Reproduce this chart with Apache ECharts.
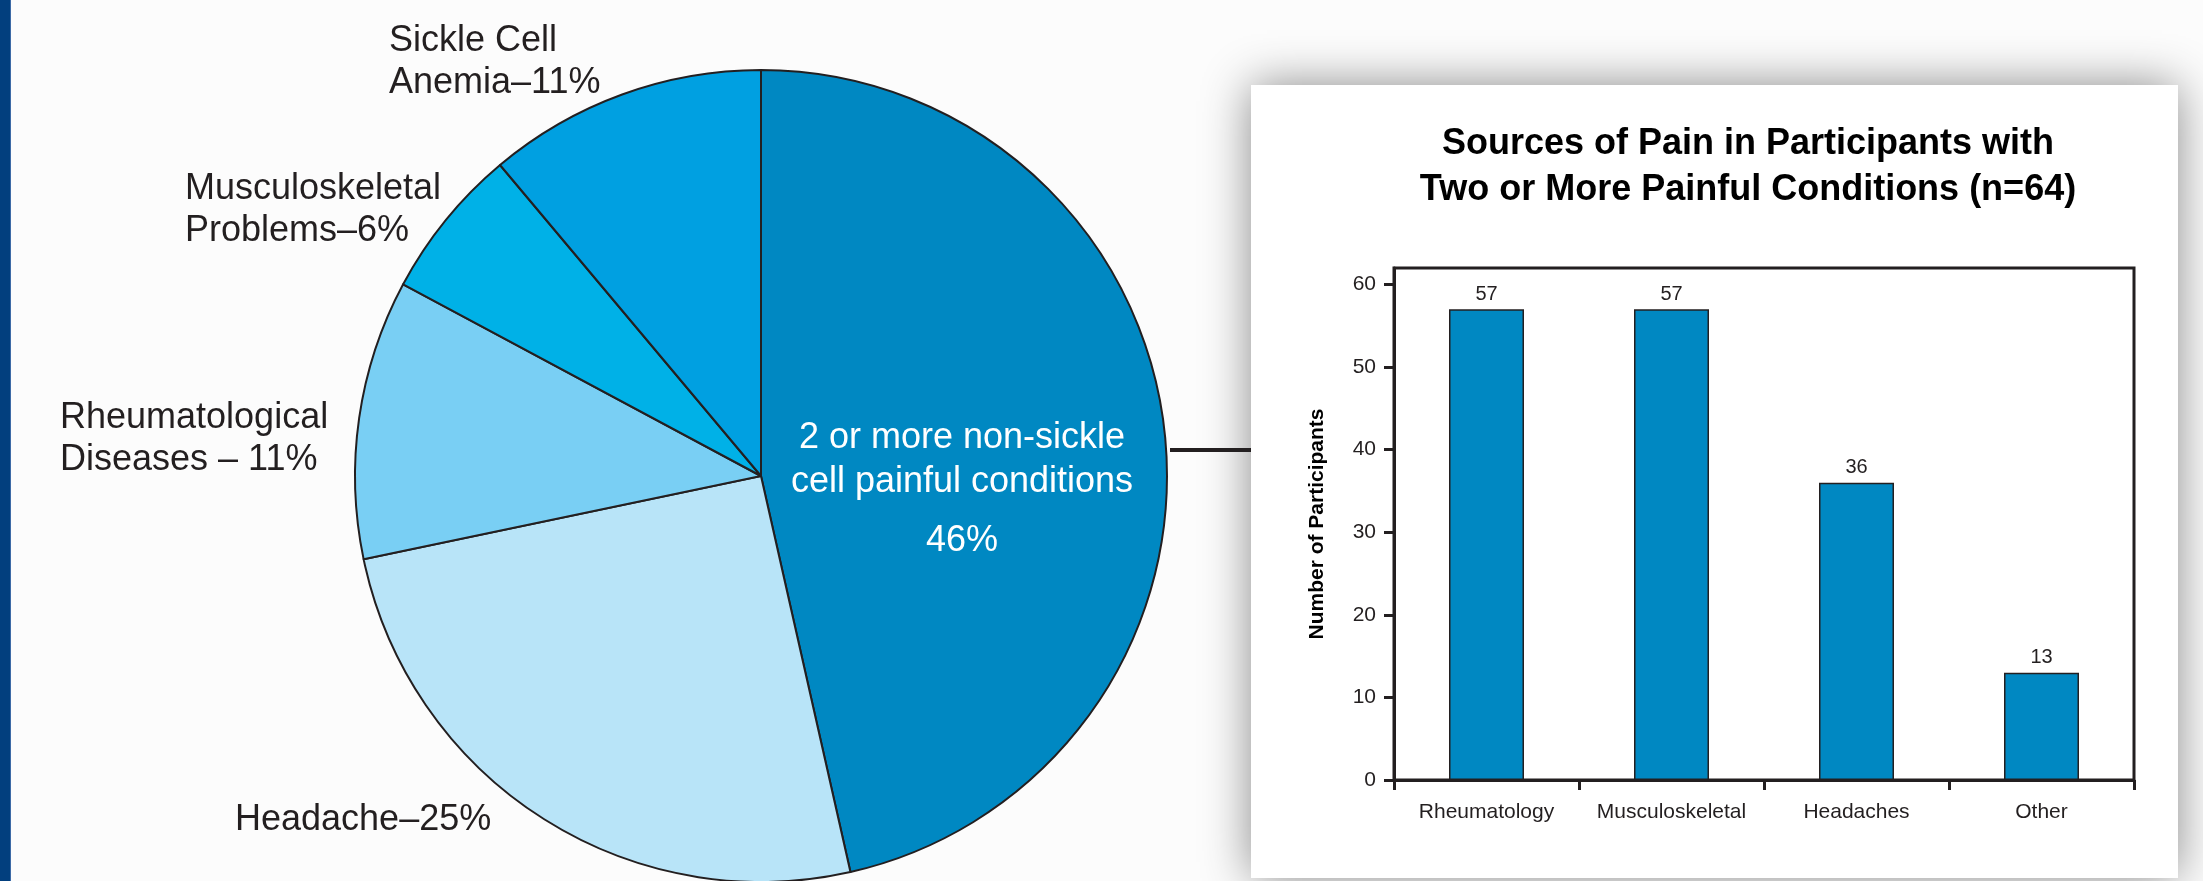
<!DOCTYPE html>
<html>
<head>
<meta charset="utf-8">
<title>Sources of Pain</title>
<script src="https://cdn.jsdelivr.net/npm/echarts@6/dist/echarts.min.js"></script>
<style>
  html, body { margin: 0; padding: 0; background: #fcfcfc; }
  #chart { width: 2203px; height: 881px; }
</style>
</head>
<body>
<div id="chart"></div>
<script>
// pie: share of participants by pain source (clockwise from 12 o'clock)
const pieLabels = [
  '2 or more non-sickle\ncell painful conditions',
  'Headache–25%',
  'Rheumatological\nDiseases – 11%',
  'Musculoskeletal\nProblems–6%',
  'Sickle Cell\nAnemia–11%'
]
const pieValues = [46, 25, 11, 6, 11]
const pieColors = ['#0088c2', '#b8e4f8', '#79cff4', '#00b1e7', '#00a0e1']

// bar: participants with two or more painful conditions
const barCategories = ['Rheumatology', 'Musculoskeletal', 'Headaches', 'Other']
const barValues = [57, 57, 36, 13]
const yTicks = [0, 10, 20, 30, 40, 50, 60]

const ink = '#231f20'
const font = '"Liberation Sans", Arial, Helvetica, sans-serif'

// where each pie label sits (top-left, or top-centre for the big slice)
const labelSpots = [
  { x: 962, y: 416, align: 'center' },
  { x: 235, y: 799, align: 'left' },
  { x: 60, y: 397, align: 'left' },
  { x: 185, y: 168, align: 'left' },
  { x: 389, y: 20, align: 'left' }
]

const chart = echarts.init(document.getElementById('chart'))

chart.setOption({
  backgroundColor: '#fcfcfc',
  animation: false,
  textStyle: { fontFamily: font },
  title: {
    text: 'Sources of Pain in Participants with\nTwo or More Painful Conditions (n=64)',
    left: 1748,
    top: 121,
    padding: 0,
    textAlign: 'center',
    textStyle: {
      fontFamily: font,
      fontSize: 36,
      fontWeight: 'bold',
      color: '#000',
      lineHeight: 46
    }
  },
  graphic: [
    // left page edge
    { type: 'rect', z: -20, shape: { x: 0, y: 0, width: 10, height: 881 }, style: { fill: '#023f7e' } },
    { type: 'rect', z: -20, shape: { x: 10, y: 0, width: 1, height: 881 }, style: { fill: '#3d6aa6' } },
    // inset panel with drop shadow
    {
      type: 'rect', z: -10,
      shape: { x: 1251, y: 85, width: 927, height: 793 },
      style: { fill: '#ffffff', shadowBlur: 45, shadowColor: 'rgba(0,0,0,0.45)' }
    },
    // connector from pie to panel
    {
      type: 'line', z: -5,
      shape: { x1: 1170, y1: 450, x2: 1251, y2: 450 },
      style: { stroke: ink, lineWidth: 4 }
    }
  ],
  grid: {
    left: 1394,
    right: 69,
    top: 268,
    bottom: 101,
    show: true,
    borderColor: ink,
    borderWidth: 3,
    backgroundColor: 'transparent'
  },
  xAxis: {
    type: 'category',
    data: barCategories,
    axisLine: { lineStyle: { color: ink, width: 3 } },
    axisTick: { show: true, interval: 0, length: 10, lineStyle: { color: ink, width: 3 } },
    axisLabel: { color: ink, fontSize: 21, margin: 22, interval: 0, fontFamily: font }
  },
  yAxis: {
    type: 'value',
    min: 0,
    max: 62,
    interval: 10,
    name: 'Number of Participants',
    nameLocation: 'middle',
    nameRotate: 90,
    nameGap: 66,
    nameTextStyle: { color: '#000', fontSize: 21, fontWeight: 'bold', fontFamily: font },
    axisLine: { show: true, lineStyle: { color: ink, width: 3 } },
    axisTick: { show: true, length: 10, customValues: yTicks, lineStyle: { color: ink, width: 3 } },
    axisLabel: { color: ink, fontSize: 21, margin: 18, customValues: yTicks, fontFamily: font },
    splitLine: { show: false }
  },
  series: [
    {
      type: 'pie',
      center: [761, 476],
      radius: 406,
      startAngle: 90,
      clockwise: true,
      silent: true,
      itemStyle: { borderColor: ink, borderWidth: 2 },
      labelLine: { show: false },
      label: {
        show: true,
        position: 'outside',
        formatter: (p) => p.dataIndex === 0 ? '{a|' + p.name + '}\n{p|' + p.value + '%}' : p.name,
        color: ink,
        fontSize: 36,
        lineHeight: 42,
        fontFamily: font,
        rich: {
          a: { color: '#fff', fontSize: 36, lineHeight: 44, align: 'center', fontFamily: font },
          p: { color: '#fff', fontSize: 36, lineHeight: 74, align: 'center', fontFamily: font }
        }
      },
      labelLayout: (params) => {
        const s = labelSpots[params.dataIndex]
        return { x: s.x, y: s.y, align: s.align, verticalAlign: 'top', hideOverlap: false }
      },
      data: pieValues.map((v, i) => ({
        name: pieLabels[i],
        value: v,
        itemStyle: { color: pieColors[i] }
      }))
    },
    {
      type: 'bar',
      data: barValues,
      barWidth: 75,
      itemStyle: { color: '#0088c2', borderColor: ink, borderWidth: 1.5 },
      label: {
        show: true,
        position: 'top',
        distance: 5,
        color: ink,
        fontSize: 20,
        fontFamily: font
      }
    }
  ]
})

window.addEventListener('resize', () => chart.resize())
</script>
</body>
</html>
